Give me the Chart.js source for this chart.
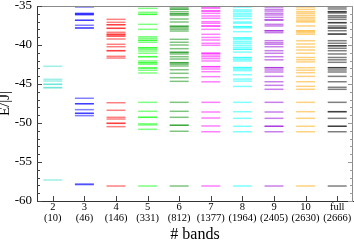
<!DOCTYPE html>
<html><head><meta charset="utf-8">
<script src="https://cdn.jsdelivr.net/npm/chart.js@4.4.0/dist/chart.umd.min.js"></script>
<style>html,body{margin:0;padding:0;background:#fff;overflow:hidden}#c{display:block}</style>
</head><body>
<canvas id="c" width="354" height="243"></canvas>
<script>
// ---- data ----
const bandLabels = ['2','3','4','5','6','7','8','9','10','full'];
const stateCounts = ['(10)','(46)','(146)','(331)','(812)','(1377)','(1964)','(2405)','(2630)','(2666)'];
const yTickValues = [-60,-55,-50,-45,-40,-35];

const levels2 = [-42.73,-44.40,-44.62,-45.04,-45.04,-45.47,-45.47,-57.31];
const levels3 = [-35.13,-35.96,-35.96,-36.1,-36.1,-36.83,-36.83,-37.47,-37.82,-37.82,
  -46.83,-47.53,-47.53,-48.29,-48.76,-48.76,-49.06,-57.82,-57.9];
const levels4 = [-36.71,-37.09,-37.40,-37.40,-37.86,-37.86,-38.37,-38.63,-38.63,-38.85,-38.85,-39.23,
  -39.91,-40.22,-40.73,-40.73,-41.45,-41.67,
  -47.40,-48.37,-49.27,-49.49,-50.04,-50.04,-50.47,-58.08];
const levels5 = [-35.30,-35.81,-36.07,-36.07,-37.35,-37.99,-38.94,-39.14,-39.40,-39.40,-39.65,
  -40.35,-40.35,-40.55,-40.77,-41.06,-41.50,-41.50,-42.05,-42.27,-42.27,-42.47,-42.95,-42.95,-43.24,-43.59,
  -47.35,-48.50,-49.27,-49.27,-50.1,-50.25,-50.81,-58.08];
const levels6 = [-35.1,-35.1,-35.4,-35.4,-35.73,-36.0,-36.0,-36.2,-36.67,-37.05,-37.6,-37.6,-37.8,-37.99,-38.21,
  -39.27,-39.65,-40.0,-40.47,-40.94,-40.94,-41.15,-41.5,-41.8,-42.27,-42.27,-42.47,-42.69,-43.17,-43.63,-44.19,-44.66,
  -47.35,-48.5,-49.27,-50.29,-50.29,-51.06,-58.08];
const levels7 = [-35.1,-35.1,-35.3,-35.64,-35.64,-35.94,-36.28,-36.57,-37.01,-37.21,-37.57,-37.57,-37.99,-38.63,
  -39.03,-39.36,-39.78,-40.04,-41.06,-41.06,-41.28,-41.50,-41.75,-42.05,-42.78,-42.78,-43.08,-43.42,-44.06,-44.72,
  -47.35,-48.59,-49.36,-50.38,-51.12,-58.08];
const levels8 = [-35.09,-35.09,-35.5,-35.7,-35.95,-36.15,-36.35,-36.63,-37.05,-37.2,-37.65,-37.65,-37.81,-38.29,
  -39.1,-39.1,-39.31,-39.56,-39.77,-40.04,-40.29,-40.55,-40.55,-40.91,-41.62,-41.62,-41.85,-42.05,-42.9,-42.9,
  -43.1,-43.29,-43.81,-44.37,-44.63,-45.31,
  -47.35,-48.55,-49.40,-50.42,-51.12,-58.08];
const levels9 = [-35.09,-35.09,-35.43,-35.65,-35.94,-36.15,-36.45,-36.79,-36.79,-37.35,-37.56,-38.17,-38.17,-38.42,
  -39.45,-39.71,-39.91,-40.22,-40.73,-41.06,-41.5,-41.9,-42.91,-42.91,-43.2,-43.46,-44.02,-44.71,-45.17,-45.68,
  -47.35,-48.59,-49.40,-50.42,-50.42,-51.12,-58.08];
const levels10 = [-35.09,-35.09,-35.43,-35.73,-35.94,-36.2,-36.45,-36.67,-36.9,-37.05,-37.56,-38.2,-38.2,-38.42,-38.63,
  -39.45,-39.87,-40.26,-40.64,-41.06,-41.6,-41.89,-42.17,-42.91,-43.23,-43.55,-44.02,-44.71,-45.3,-45.68,
  -47.35,-48.55,-49.40,-50.42,-51.12,-58.08];
const levelsFull = [-35.09,-35.09,-35.38,-35.73,-35.73,-35.9,-36.24,-36.45,-36.71,-37.14,-37.14,-37.56,-37.82,-37.82,
  -38.17,-38.6,-38.6,-39.45,-39.78,-40.1,-40.1,-40.42,-40.73,-41.15,-41.6,-41.9,-42.22,-42.91,-42.91,-43.2,-43.46,
  -44.02,-44.71,-45.42,-45.68,
  -47.35,-48.55,-48.55,-49.40,-50.42,-50.42,-51.12,-58.08];

const allLevels = [levels2,levels3,levels4,levels5,levels6,levels7,levels8,levels9,levels10,levelsFull];
const seriesColors = ['64,224,208','0,0,255','255,0,0','0,255,0','0,139,0','255,0,255','0,255,255','148,0,211','255,165,0','0,0,0'];

// ---- build datasets ----
const HALF = 0.3;
const datasets = [];
allLevels.forEach((lv, i) => {
  const xc = i + 2;
  lv.forEach(v => {
    datasets.push({
      data: [{x: xc - HALF, y: v}, {x: xc + HALF, y: v}],
      borderColor: 'rgba(' + seriesColors[i] + ',0.5)',
      borderWidth: 1.5,
      pointRadius: 0,
      showLine: true,
      fill: false
    });
  });
});

const serif = "'Liberation Serif','DejaVu Serif',serif";

const frameTicks = {
  id: 'frameTicks',
  afterDraw(chart) {
    const {ctx, chartArea: a, scales: {x, y}} = chart;
    ctx.save();
    ctx.lineWidth = 1;
    ctx.strokeStyle = '#8a8a8a';
    ctx.beginPath();
    ctx.moveTo(a.left, Math.round(a.top) + 0.5);
    ctx.lineTo(a.right, Math.round(a.top) + 0.5);
    ctx.moveTo(Math.round(a.right) - 0.5, a.top);
    ctx.lineTo(Math.round(a.right) - 0.5, a.bottom);
    ctx.stroke();
    for (let v = y.min; v <= y.max; v++) {
      const py = Math.round(y.getPixelForValue(v)) + 0.5;
      const len = (v % 5 === 0) ? 5 : 3;
      ctx.strokeStyle = '#444';
      ctx.beginPath();
      ctx.moveTo(a.left, py); ctx.lineTo(a.left + len, py);
      ctx.stroke();
      ctx.strokeStyle = '#999';
      ctx.beginPath();
      ctx.moveTo(a.right, py); ctx.lineTo(a.right - len, py);
      ctx.stroke();
    }
    ctx.strokeStyle = '#444';
    bandLabels.forEach((l, i) => {
      const px = Math.round(x.getPixelForValue(i + 2)) + 0.5;
      ctx.beginPath();
      ctx.moveTo(px, a.bottom); ctx.lineTo(px, a.bottom - 5);
      ctx.stroke();
    });
    ctx.restore();
  }
};

new Chart(document.getElementById('c'), {
  type: 'scatter',
  data: {datasets},
  plugins: [frameTicks],
  options: {
    responsive: false,
    devicePixelRatio: 1,
    animation: false,
    events: [],
    layout: {padding: {top: 0, right: 1, left: 0, bottom: 0}},
    plugins: {legend: {display: false}, tooltip: {enabled: false}},
    scales: {
      x: {
        type: 'linear', min: 1.5, max: 11.5,
        grid: {display: false, drawTicks: false},
        border: {display: true, color: '#333', width: 1},
        afterBuildTicks: s => { s.ticks = bandLabels.map((l, i) => ({value: i + 2})); },
        afterFit: s => { s.height = 42; s.paddingLeft = 0; s.paddingRight = 0; },
        ticks: {
          autoSkip: false, maxRotation: 0, padding: 1,
          color: '#000',
          font: {family: serif, size: 10.5, lineHeight: 1.0},
          callback: (v) => { const i = Math.round(v) - 2; return [bandLabels[i], stateCounts[i]]; }
        },
        title: {display: true, text: '# bands', color: '#000',
          font: {family: serif, size: 16, lineHeight: 1.0}, padding: {top: 0, bottom: 0}}
      },
      y: {
        type: 'linear', min: -60, max: -35,
        grid: {display: false, drawTicks: false},
        border: {display: true, color: '#333', width: 1},
        afterBuildTicks: s => { s.ticks = yTickValues.map(v => ({value: v})); },
        afterFit: s => { s.width = 37; s.paddingTop = 6; s.paddingBottom = 0; },
        ticks: {padding: 5, color: '#000', font: {family: serif, size: 13}},
        title: {display: true, text: 'E/|J|', color: '#000',
          font: {family: serif, size: 15, lineHeight: 1.0}, padding: {top: -2, bottom: 0}}
      }
    }
  }
});
</script>
</body></html>
